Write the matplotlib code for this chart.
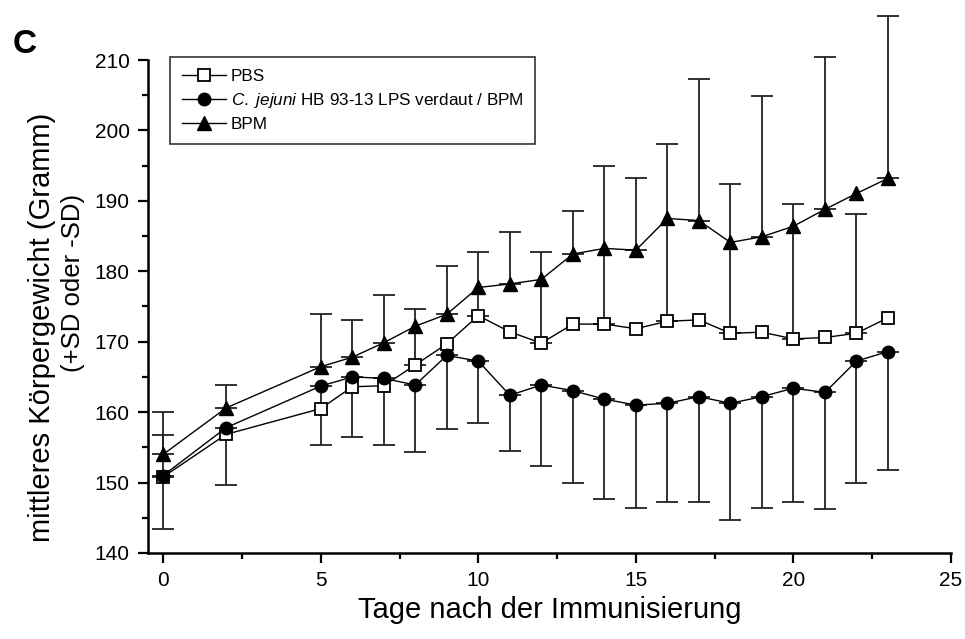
import numpy as np
import matplotlib
matplotlib.use("Agg")
import matplotlib.pyplot as plt
from matplotlib.ticker import MultipleLocator

plt.rcParams['font.family'] = ['Liberation Sans', 'DejaVu Sans']
plt.rcParams['mathtext.fontset'] = 'custom'
plt.rcParams['mathtext.rm'] = 'Liberation Sans'
plt.rcParams['mathtext.it'] = 'Liberation Sans:italic'

# Days after immunisation
days = [0, 2, 5, 6, 7, 8, 9, 10, 11, 12, 13, 14, 15, 16, 17, 18, 19, 20, 21, 22, 23]

# Mean body weight (g)
pbs = [150.8, 156.85, 160.5, 163.6, 163.75, 166.7, 169.7, 173.7, 171.4, 169.8, 172.5,
       172.5, 171.85, 172.9, 173.1, 171.2, 171.35, 170.4, 170.6, 171.2, 173.4]
lps = [151.0, 157.8, 163.7, 165.0, 164.8, 163.85, 168.05, 167.25, 162.4, 163.85, 163.05,
       161.85, 161.0, 161.25, 162.2, 161.25, 162.2, 163.4, 162.8, 167.25, 168.6]
bpm = [154.0, 160.6, 166.45, 167.8, 169.85, 172.2, 173.9, 177.7, 178.2, 178.85, 182.45,
       183.25, 183.0, 187.5, 187.2, 184.1, 184.9, 186.4, 188.8, 191.05, 193.2]

# Standard deviations (one-sided: +SD for PBS/BPM, -SD for LPS; NaN = not shown)
nan = np.nan
pbs_sd_up = [5.9, nan, nan, nan, nan, 7.95, nan, 9.0, nan, 13.0, nan,
             22.45, nan, 25.2, nan, 21.2, nan, 19.15, nan, 16.9, nan]
bpm_sd_up = [6.0, 3.3, 7.45, 5.3, 6.75, nan, 6.9, nan, 7.4, nan, 6.1,
             nan, 10.3, nan, 20.1, nan, 20.0, nan, 21.65, nan, 23.1]
lps_sd_down = [7.55, 8.2, 8.3, 8.6, 9.5, 9.45, 10.4, 8.8, 7.9, 11.45, 13.15,
               14.25, 14.65, 14.05, 15.0, 16.55, 15.75, 16.2, 16.55, 17.35, 16.8]

labels = ["PBS", r"$\mathit{C.\ jejuni}$ HB 93-13 LPS verdaut / BPM", "BPM"]
ylabel_main = "mittleres Körpergewicht (Gramm)"
ylabel_note = "(+SD oder -SD)"
xlabel = "Tage nach der Immunisierung"

fig = plt.figure(figsize=(9.65, 6.39), dpi=100)
ax = fig.add_axes([0.1534, 0.1346, 0.8321, 0.7715])

x = np.array(days, dtype=float)


def one_sided(sd, up=True):
    sd = np.array(sd, dtype=float)
    mask = ~np.isnan(sd)
    zeros = np.zeros(mask.sum())
    err = [zeros, sd[mask]] if up else [sd[mask], zeros]
    return mask, err


eb_kw = dict(fmt='none', ecolor='#222222', elinewidth=1.3, capsize=8.2,
             capthick=1.3, zorder=2, clip_on=False)

m, e = one_sided(pbs_sd_up, True)
ax.errorbar(x[m], np.array(pbs)[m], yerr=e, **eb_kw)
m, e = one_sided(bpm_sd_up, True)
ax.errorbar(x[m], np.array(bpm)[m], yerr=e, **eb_kw)
m, e = one_sided(lps_sd_down, False)
ax.errorbar(x[m], np.array(lps)[m], yerr=e, **eb_kw)

ax.plot(x, pbs, '-', color='black', lw=1.0, marker='s', ms=8.4, mfc='white',
        mec='black', mew=1.3, label=labels[0], zorder=4, clip_on=False)
ax.plot(x, lps, '-', color='black', lw=1.0, marker='o', ms=9.0, mfc='black',
        mec='black', label=labels[1], zorder=4, clip_on=False)
ax.plot(x, bpm, '-', color='black', lw=1.0, marker='^', ms=10.5, mfc='black',
        mec='black', label=labels[2], zorder=4, clip_on=False)

ax.set_xlim(-0.48, 25)
ax.set_ylim(140, 210)
ax.xaxis.set_major_locator(MultipleLocator(5))
ax.xaxis.set_minor_locator(MultipleLocator(2.5))
ax.yaxis.set_major_locator(MultipleLocator(10))
ax.yaxis.set_minor_locator(MultipleLocator(5))

for side in ('top', 'right'):
    ax.spines[side].set_visible(False)
for side in ('left', 'bottom'):
    ax.spines[side].set_linewidth(1.8)

ax.tick_params(which='major', direction='out', length=7.2, width=1.6,
               labelsize=15, pad=6)
ax.tick_params(which='minor', direction='out', length=4.3, width=1.6)

ax.set_xlabel(xlabel, fontsize=21, labelpad=4)

# Two-line y-axis title, each line placed on its own
fig.text(0.044, 0.488, ylabel_main, fontsize=21, rotation=90,
         ha='center', va='center')
fig.text(0.0756, 0.557, ylabel_note, fontsize=18.5, rotation=90,
         ha='center', va='center')

leg = ax.legend(loc='upper left', bbox_to_anchor=(0.0274, 1.006), frameon=True,
                fancybox=False, edgecolor='black', fontsize=12.3,
                handlelength=2.55, handletextpad=0.3, borderpad=0.7,
                labelspacing=0.4, borderaxespad=0.0)
leg.get_frame().set_linewidth(1.2)

fig.text(0.026, 0.93, "C", fontsize=24, fontweight='bold', ha='center', va='center')

fig.savefig("out.png", dpi=100)
